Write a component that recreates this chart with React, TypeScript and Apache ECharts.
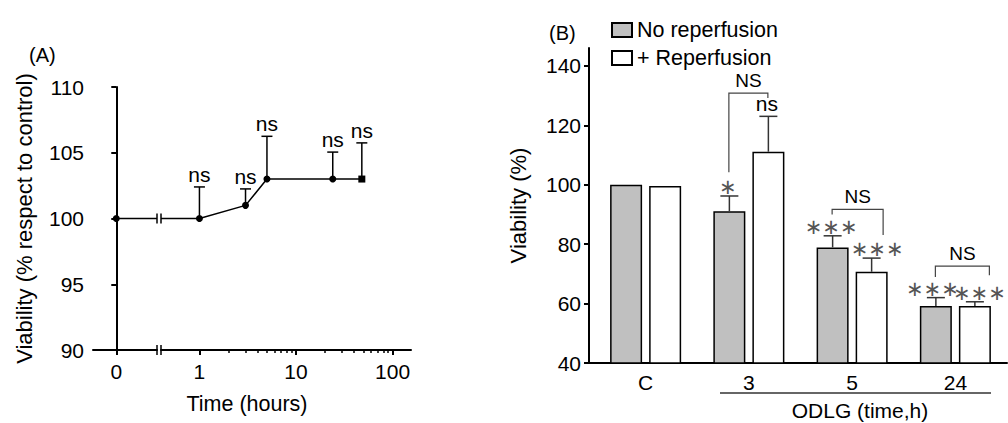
import React, { useEffect, useRef } from 'react';
import * as echarts from 'echarts';

// ---------- Panel A data ----------
const timesA = [0, 1, 3, 5, 24, 48];
const viabA = [100, 100, 101, 103, 103, 103];
const errA = [0, 2.4, 1.25, 3.25, 2.05, 2.75];
const sigA = ['', 'ns', 'ns', 'ns', 'ns', 'ns'];
const xZeroTickA = [0];
const xMajorA = [1, 10, 100];
const xMinorA = [2, 3, 4, 5, 6, 7, 8, 9, 20, 30, 40, 50, 60, 70, 80, 90];

// ---------- Panel B data ----------
const categoriesB = ['C', '3', '5', '24'];
const noRepB = [100, 91.1, 78.9, 59.2];
const noRepErrB = [0, 5.1, 3.9, 2.8];
const repB = [99.6, 111.1, 70.7, 59.2];
const repErrB = [0, 11.9, 4.6, 1.4];
const sigNoRepB = ['', '*', '***', '***'];
const sigRepB = ['', 'ns', '***', '***'];
const bracketTopB = [null, 130.8, 91.7, 72.6];
const bracketLeftEndB = [null, 104.2, 90, 68.9];
const bracketRightEndB = [null, 129.2, 83.1, 69.5];
const bracketLabelB = ['', 'NS', 'NS', 'NS'];
const yTicksB = [40, 60, 80, 100, 120, 140];

// ---------- layout / style constants ----------
const FONT = '"Liberation Sans", Arial, sans-serif';
const STAR_FONT = '"DejaVu Sans", sans-serif';
const X1MIN = -1;
const X1MAX = 1.75;
const X2MIN = Math.log10(0.4);
const X2MAX = Math.log10(155);
const A_TOP = 87;
const A_H = 263;
const A1_LEFT = 93;
const A1_W = 64;
const A2_LEFT = 161;
const A2_W = 250;
const B_LEFT = 594;
const B_TOP = 48;
const B_H = 315;
const B_W = 413;
const BAR_W = 32;
const HALF = 19.5;
const brLeftDx = [0, -20, -20, -20];
const brRightDx = [0, 19, 31, 34];
const starDxNoRep = [0, -21, -21, -23];
const starDxRep = [0, 18, 25, 24];

const toStars = (s: string) => s.replace(/\*/g, '\u2217');

export default function App() {
  const ref = useRef<HTMLDivElement>(null);
  useEffect(() => {
    if (!ref.current) return;
    const chart = echarts.init(ref.current, null, { renderer: 'svg' });

    const yA100 = A_TOP + ((110 - viabA[0]) / 20) * A_H;
    const axisY_A = A_TOP + A_H;
    const axisY_B = B_TOP + B_H;

    const axisLine = { show: true, lineStyle: { color: '#000', width: 2 } };
    const tickStyle = { color: '#000', width: 2 };
    const labelStyle = { color: '#000', fontSize: 21, fontFamily: FONT };

    const option: any = {
      animation: false,
      backgroundColor: '#fff',
      grid: [
        { left: A1_LEFT, top: A_TOP, width: A1_W, height: A_H, outerBoundsMode: 'none' },
        { left: A2_LEFT, top: A_TOP, width: A2_W, height: A_H, outerBoundsMode: 'none' },
        { left: B_LEFT, top: B_TOP, width: B_W, height: B_H, outerBoundsMode: 'none' },
      ],
      legend: {
        orient: 'vertical',
        left: 606,
        top: 14,
        itemWidth: 20,
        itemHeight: 14,
        itemGap: 6,
        selectedMode: false,
        icon: 'rect',
        textStyle: { color: '#000', fontSize: 21.5, fontFamily: FONT },
        data: ['No reperfusion', '+ Reperfusion'],
      },
      xAxis: [
        {
          gridIndex: 0, type: 'value', min: X1MIN, max: X1MAX, position: 'bottom',
          axisLine, splitLine: { show: false },
          axisTick: { show: true, length: 5, lineStyle: tickStyle, customValues: xZeroTickA },
          axisLabel: { ...labelStyle, margin: 11, customValues: xZeroTickA },
        },
        {
          gridIndex: 1, type: 'value', min: X2MIN, max: X2MAX, position: 'bottom',
          axisLine, splitLine: { show: false },
          axisTick: { show: true, length: 5, lineStyle: tickStyle, customValues: xMajorA.map(Math.log10) },
          axisLabel: {
            ...labelStyle, margin: 11, customValues: xMajorA.map(Math.log10),
            formatter: (v: number) => String(Math.round(Math.pow(10, v))),
          },
        },
        {
          gridIndex: 1, type: 'value', min: X2MIN, max: X2MAX, position: 'bottom',
          axisLine: { show: false }, splitLine: { show: false },
          axisTick: { show: true, length: 3, lineStyle: { color: '#000', width: 1.5 }, customValues: xMinorA.map(Math.log10) },
          axisLabel: { show: false },
        },
        {
          gridIndex: 2, type: 'category', data: categoriesB, position: 'bottom',
          axisLine, axisTick: { show: false }, splitLine: { show: false },
          axisLabel: { ...labelStyle, margin: 9 },
        },
      ],
      yAxis: [
        {
          gridIndex: 0, type: 'value', min: 90, max: 110, interval: 5,
          axisLine, splitLine: { show: false },
          axisTick: { show: true, length: 5, lineStyle: tickStyle },
          axisLabel: { ...labelStyle, margin: 9 },
          name: 'Viability (% respect to control)', nameLocation: 'middle', nameGap: 58,
          nameTextStyle: { color: '#000', fontSize: 22, fontFamily: FONT },
        },
        { gridIndex: 1, type: 'value', min: 90, max: 110, show: false },
        {
          gridIndex: 2, type: 'value', min: 40, max: 146, offset: 5,
          axisLine, splitLine: { show: false },
          axisTick: { show: true, length: 5, lineStyle: tickStyle, customValues: yTicksB },
          axisLabel: { ...labelStyle, margin: 8, customValues: yTicksB },
          name: 'Viability (%)', nameLocation: 'middle', nameGap: 60,
          nameTextStyle: { color: '#000', fontSize: 22, fontFamily: FONT },
        },
      ],
      series: [
        // panel A: connector 0 -> break
        {
          type: 'line', xAxisIndex: 0, yAxisIndex: 0,
          data: [
            { value: [timesA[0], viabA[0]], symbol: 'circle' },
            { value: [X1MAX, viabA[0]], symbol: 'none' },
          ],
          symbolSize: 7, showAllSymbol: true,
          itemStyle: { color: '#000' }, lineStyle: { color: '#000', width: 1.5 },
        },
        // panel A: connector break -> 1
        {
          type: 'line', xAxisIndex: 1, yAxisIndex: 1,
          data: [[X2MIN, viabA[1]], [Math.log10(timesA[1]), viabA[1]]],
          showSymbol: false, lineStyle: { color: '#000', width: 1.5 },
        },
        // panel A: error bars + ns
        {
          type: 'custom', xAxisIndex: 1, yAxisIndex: 1, clip: false,
          data: timesA.slice(1).map((t, i) => [Math.log10(t), viabA[i + 1], errA[i + 1]]),
          renderItem: (params: any, api: any) => {
            const i = params.dataIndex + 1;
            const x = api.value(0), v = api.value(1), e = api.value(2);
            const p0 = api.coord([x, v]);
            const p1 = api.coord([x, v + e]);
            return {
              type: 'group',
              children: [
                { type: 'line', shape: { x1: p0[0], y1: p0[1], x2: p1[0], y2: p1[1] }, style: { stroke: '#000', lineWidth: 1.5 } },
                { type: 'line', shape: { x1: p1[0] - 5.5, y1: p1[1], x2: p1[0] + 5.5, y2: p1[1] }, style: { stroke: '#000', lineWidth: 1.5 } },
                {
                  type: 'text', x: p1[0], y: p1[1] - 2,
                  style: { text: sigA[i], fill: '#000', fontSize: 21, fontFamily: FONT, align: 'center', verticalAlign: 'bottom' },
                },
              ],
            };
          },
        },
        // panel A: main line
        {
          type: 'line', xAxisIndex: 1, yAxisIndex: 1, z: 5,
          data: timesA.slice(1).map((t, i) => ({
            value: [Math.log10(t), viabA[i + 1]],
            symbol: i === timesA.length - 2 ? 'rect' : 'circle',
          })),
          symbolSize: 7, showAllSymbol: true,
          itemStyle: { color: '#000' }, lineStyle: { color: '#000', width: 1.5 },
        },
        // panel B bars
        {
          name: 'No reperfusion', type: 'bar', xAxisIndex: 3, yAxisIndex: 2,
          data: noRepB, barWidth: BAR_W, barGap: '22%',
          itemStyle: { color: '#c0c0c0', borderColor: '#000', borderWidth: 1.5 },
        },
        {
          name: '+ Reperfusion', type: 'bar', xAxisIndex: 3, yAxisIndex: 2,
          data: repB, barWidth: BAR_W, barGap: '22%',
          itemStyle: { color: '#fff', borderColor: '#000', borderWidth: 1.5 },
        },
        // panel B error bars
        {
          type: 'custom', xAxisIndex: 3, yAxisIndex: 2, clip: false, z: 3,
          data: categoriesB.flatMap((_, i) => [
            [i, noRepB[i], noRepErrB[i], -1],
            [i, repB[i], repErrB[i], 1],
          ]).filter((d) => d[2] > 0),
          renderItem: (params: any, api: any) => {
            const i = api.value(0), v = api.value(1), e = api.value(2), side = api.value(3);
            const p0 = api.coord([i, v]);
            const p1 = api.coord([i, v + e]);
            const x = p0[0] + side * HALF;
            return {
              type: 'group',
              children: [
                { type: 'line', shape: { x1: x, y1: p0[1], x2: x, y2: p1[1] }, style: { stroke: '#333', lineWidth: 1.5 } },
                { type: 'line', shape: { x1: x - 9, y1: p1[1], x2: x + 9, y2: p1[1] }, style: { stroke: '#333', lineWidth: 1.5 } },
              ],
            };
          },
        },
        // panel B annotations
        {
          type: 'custom', xAxisIndex: 3, yAxisIndex: 2, clip: false, z: 4,
          data: bracketTopB.map((b, i) => (b == null ? null : [i, b])).filter((d) => d !== null),
          renderItem: (params: any, api: any) => {
            const i = api.value(0);
            const c = api.coord([i, 100])[0];
            const lx = c + brLeftDx[i];
            const rx = c + brRightDx[i];
            const yTop = api.coord([i, bracketTopB[i] as number])[1];
            const yL = api.coord([i, bracketLeftEndB[i] as number])[1];
            const yR = api.coord([i, bracketRightEndB[i] as number])[1];
            const capNo = api.coord([i, noRepB[i] + noRepErrB[i]])[1];
            const capRep = api.coord([i, repB[i] + repErrB[i]])[1];
            const sigText = (s: string, x: number, cap: number) =>
              s.indexOf('*') >= 0
                ? {
                    type: 'text', x, y: cap - 9,
                    style: { text: toStars(s), fill: '#555', fontSize: 21, fontFamily: STAR_FONT, align: 'center', verticalAlign: 'middle' },
                  }
                : {
                    type: 'text', x, y: cap - 2,
                    style: { text: s, fill: '#000', fontSize: 21, fontFamily: FONT, align: 'center', verticalAlign: 'bottom' },
                  };
            return {
              type: 'group',
              children: [
                {
                  type: 'polyline',
                  shape: { points: [[lx, yL], [lx, yTop], [rx, yTop], [rx, yR]] },
                  style: { stroke: '#444', lineWidth: 1.2, fill: 'none' },
                },
                {
                  type: 'text', x: (lx + rx) / 2, y: yTop - 3,
                  style: { text: bracketLabelB[i], fill: '#000', fontSize: 19, fontFamily: FONT, align: 'center', verticalAlign: 'bottom' },
                },
                sigText(sigNoRepB[i], c + starDxNoRep[i], capNo),
                sigText(sigRepB[i], c + starDxRep[i], capRep),
              ],
            };
          },
        },
      ],
      graphic: [
        { type: 'text', left: 29, top: 45, style: { text: '(A)', fill: '#000', fontSize: 20, fontFamily: FONT } },
        { type: 'text', left: 549, top: 23, style: { text: '(B)', fill: '#000', fontSize: 20, fontFamily: FONT } },
        {
          type: 'text', x: 247, y: 404,
          style: { text: 'Time (hours)', fill: '#000', fontSize: 21.5, fontFamily: FONT, align: 'center', verticalAlign: 'middle' },
        },
        {
          type: 'text', x: 860, y: 410,
          style: { text: 'ODLG (time,h)', fill: '#000', fontSize: 21, fontFamily: FONT, align: 'center', verticalAlign: 'middle' },
        },
        { type: 'line', shape: { x1: 720, y1: 393, x2: 991, y2: 393 }, style: { stroke: '#333', lineWidth: 1.5 } },
        { type: 'line', shape: { x1: 586, y1: axisY_B, x2: B_LEFT, y2: axisY_B }, style: { stroke: '#000', lineWidth: 2 } },
        // axis break marks (panel A)
        { type: 'line', shape: { x1: A1_LEFT + A1_W, y1: axisY_A - 5, x2: A1_LEFT + A1_W, y2: axisY_A + 5 }, style: { stroke: '#000', lineWidth: 1.5 } },
        { type: 'line', shape: { x1: A2_LEFT, y1: axisY_A - 5, x2: A2_LEFT, y2: axisY_A + 5 }, style: { stroke: '#000', lineWidth: 1.5 } },
        { type: 'line', shape: { x1: A1_LEFT + A1_W, y1: yA100 - 5, x2: A1_LEFT + A1_W, y2: yA100 + 5 }, style: { stroke: '#000', lineWidth: 1.5 } },
        { type: 'line', shape: { x1: A2_LEFT, y1: yA100 - 5, x2: A2_LEFT, y2: yA100 + 5 }, style: { stroke: '#000', lineWidth: 1.5 } },
      ],
    };
    chart.setOption(option);
    return () => chart.dispose();
  }, []);
  return <div ref={ref} style={{ position: 'fixed', left: 0, top: 0, width: 1008, height: 423 }} />;
}
